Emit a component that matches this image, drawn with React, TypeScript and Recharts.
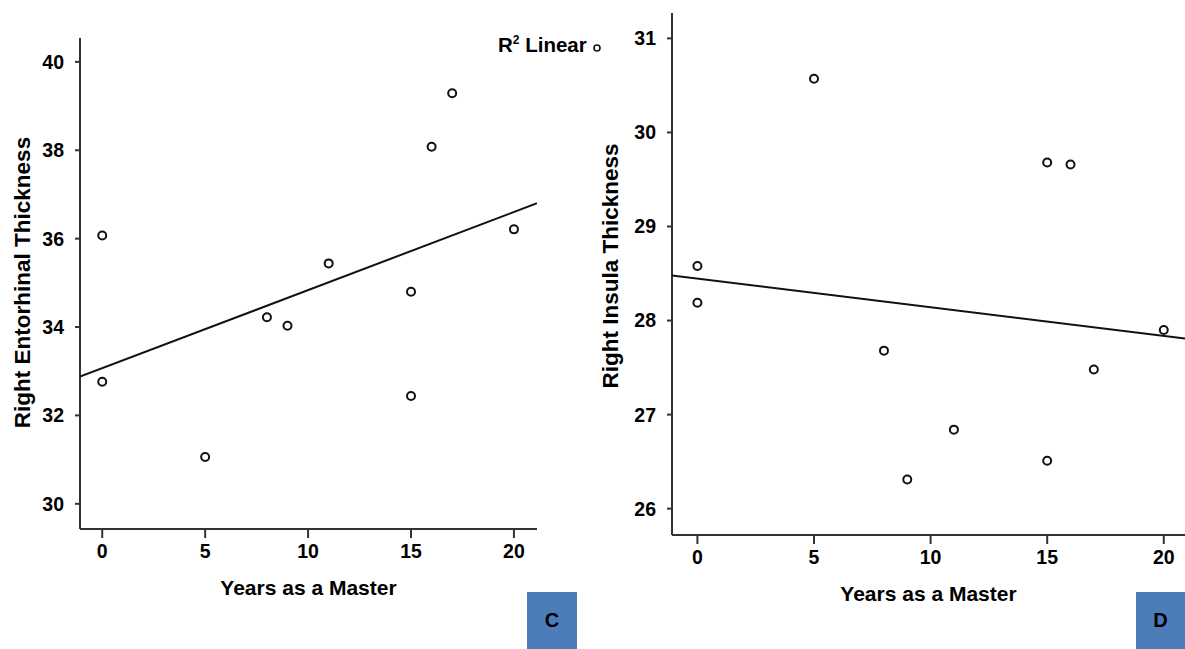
import { Label, Scatter, ScatterChart, XAxis, YAxis } from "recharts";

const years = [0, 0, 5, 8, 9, 11, 15, 15, 16, 17, 20];
const entorhinal = [36.07, 32.76, 31.06, 34.22, 34.03, 35.44, 34.8, 32.44, 38.08, 39.29, 36.21];
const insula = [28.58, 28.19, 30.57, 27.68, 26.31, 26.84, 29.68, 26.51, 29.66, 27.48, 27.9];

const xTicks = [0, 5, 10, 15, 20];
const yTicksC = [30, 32, 34, 36, 38, 40];
const yTicksD = [26, 27, 28, 29, 30, 31];

// fit line end points
const fitXC = [-1.08, 21.12];
const fitYC = [32.88, 36.8];
const fitXD = [-1.09, 20.91];
const fitYD = [28.48, 27.81];

const FONT = "'Liberation Sans', Arial, sans-serif";
const INK = "#111";
const AXIS = "#333";
const PANEL_BLUE = "#4c7dba";

const toPoints = (xs: number[], ys: number[]) => xs.map((x, i) => ({ x, y: ys[i] }));

const ringDot = (props: any) => (
  <circle cx={props.cx} cy={props.cy} r={4} fill="#fff" stroke={INK} strokeWidth={2} />
);
const noDot = () => <g />;

const tickStyle = { fill: "#000", fontSize: 19.5, fontWeight: 700, fontFamily: FONT };

function xTitle(text: string) {
  return (props: any) => {
    const vb = props.viewBox;
    return (
      <text
        x={vb.x + vb.width / 2}
        y={vb.y + 58}
        textAnchor="middle"
        dominantBaseline="central"
        fontSize={21}
        fontWeight={700}
        fontFamily={FONT}
        fill="#000"
      >
        {text}
      </text>
    );
  };
}

function yTitle(text: string, cx: number, dy: number) {
  return (props: any) => {
    const vb = props.viewBox;
    const x = vb.x + cx;
    const y = vb.y + vb.height / 2 + dy;
    return (
      <text
        x={x}
        y={y}
        transform={`rotate(-90, ${x}, ${y})`}
        textAnchor="middle"
        dominantBaseline="central"
        fontSize={22.5}
        fontWeight={700}
        fontFamily={FONT}
        fill="#000"
      >
        {text}
      </text>
    );
  };
}

function Panel({
  width,
  margin,
  yWidth,
  xDomain,
  yDomain,
  yTicks,
  ys,
  fit,
  yLabel,
  titleX,
  titleDy,
}: any) {
  return (
    <ScatterChart width={width} height={649} margin={margin}>
      <XAxis
        type="number"
        dataKey="x"
        domain={xDomain}
        ticks={xTicks}
        allowDataOverflow
        height={70}
        tick={tickStyle}
        tickSize={9}
        tickMargin={6}
        axisLine={{ stroke: AXIS, strokeWidth: 2 }}
        tickLine={{ stroke: AXIS, strokeWidth: 2 }}
      >
        <Label content={xTitle("Years as a Master")} />
      </XAxis>
      <YAxis
        type="number"
        dataKey="y"
        domain={yDomain}
        ticks={yTicks}
        allowDataOverflow
        width={yWidth}
        tick={tickStyle}
        tickSize={5}
        tickMargin={11}
        axisLine={{ stroke: AXIS, strokeWidth: 2 }}
        tickLine={{ stroke: AXIS, strokeWidth: 2 }}
      >
        <Label content={yTitle(yLabel, titleX, titleDy)} />
      </YAxis>
      <Scatter
        data={fit}
        line={{ stroke: INK, strokeWidth: 2 }}
        lineType="joint"
        shape={noDot}
        isAnimationActive={false}
      />
      <Scatter data={toPoints(years, ys)} shape={ringDot} isAnimationActive={false} />
    </ScatterChart>
  );
}

const box = (left: number, letter: string) => (
  <div
    style={{
      position: "absolute",
      left,
      top: 592,
      width: letter === "C" ? 50 : 49,
      height: 57,
      background: PANEL_BLUE,
      color: "#000",
      fontFamily: FONT,
      fontWeight: 700,
      fontSize: 20,
      display: "flex",
      alignItems: "center",
      justifyContent: "center",
    }}
  >
    {letter}
  </div>
);

export default function App() {
  return (
    <div
      style={{
        position: "absolute",
        left: 0,
        top: 0,
        width: 1185,
        height: 649,
        background: "#fff",
        overflow: "hidden",
      }}
    >
      <div style={{ position: "absolute", left: 0, top: 0 }}>
        <Panel
          width={560}
          margin={{ top: 38, right: 23, bottom: 50, left: 10 }}
          yWidth={70}
          xDomain={[-1.08, 21.12]}
          yDomain={[29.43, 40.54]}
          yTicks={yTicksC}
          ys={entorhinal}
          fit={toPoints(fitXC, fitYC)}
          yLabel="Right Entorhinal Thickness"
          titleX={12}
          titleDy={-1}
        />
      </div>
      <div style={{ position: "absolute", left: 590, top: 0 }}>
        <Panel
          width={595}
          margin={{ top: 13, right: 0, bottom: 44, left: 10 }}
          yWidth={72}
          xDomain={[-1.09, 20.91]}
          yDomain={[25.72, 31.27]}
          yTicks={yTicksD}
          ys={insula}
          fit={toPoints(fitXD, fitYD)}
          yLabel="Right Insula Thickness"
          titleX={10}
          titleDy={-8}
        />
      </div>
      <div
        style={{
          position: "absolute",
          left: 498,
          top: 33,
          fontFamily: FONT,
          fontWeight: 700,
          fontSize: 20.5,
          color: "#000",
          whiteSpace: "nowrap",
          display: "flex",
          alignItems: "center",
        }}
      >
        <span>
          R<sup style={{ fontSize: 12 }}>2</sup> Linear
        </span>
        <svg width={12} height={12} style={{ marginLeft: 4, position: "relative", top: 3 }}>
          <circle cx={6} cy={6} r={3} fill="#fff" stroke={INK} strokeWidth={1.6} />
        </svg>
      </div>
      {box(527, "C")}
      {box(1136, "D")}
    </div>
  );
}
